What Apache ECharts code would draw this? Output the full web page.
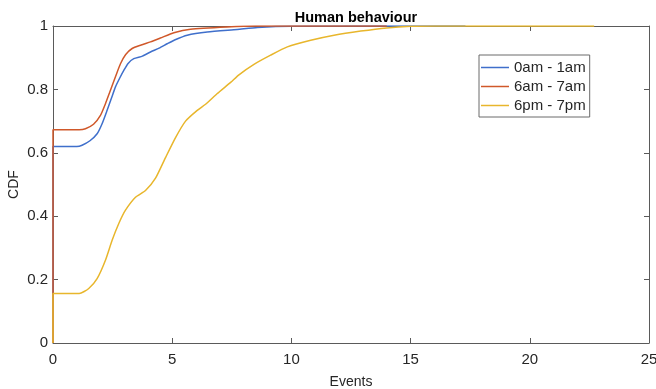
<!DOCTYPE html>
<html>
<head>
<meta charset="utf-8">
<script src="https://cdn.jsdelivr.net/npm/echarts@6/dist/echarts.min.js"></script>
<style>
  html, body { margin: 0; padding: 0; background: #fff; }
  #chart { width: 656px; height: 389px; }
</style>
</head>
<body>
<div id="chart"></div>
<script>
  // CDF curves, [events, cdf]
  var seriesNames = ['0am - 1am', '6am - 7am', '6pm - 7pm'];
  var night = [[0, 0], [0, 0.62], [1.0, 0.62], [1.22, 0.624], [1.55, 0.638], [1.85, 0.66], [2.05, 0.69], [2.27, 0.734],
    [2.45, 0.772], [2.62, 0.808], [2.8, 0.836], [2.97, 0.86], [3.15, 0.882], [3.39, 0.897], [3.75, 0.905], [4.09, 0.918],
    [4.45, 0.93], [4.79, 0.944], [5.1, 0.956], [5.63, 0.971], [6.47, 0.981], [7.73, 0.989], [8.57, 0.995], [10, 0.999], [17.3, 1]];
  var morning = [[0, 0], [0, 0.673], [1.1, 0.673], [1.36, 0.676], [1.7, 0.69], [1.99, 0.718], [2.2, 0.755], [2.41, 0.797],
    [2.62, 0.84], [2.83, 0.881], [3.05, 0.91], [3.32, 0.929], [3.7, 0.94], [4.09, 0.95], [4.5, 0.962], [5.07, 0.979],
    [5.77, 0.99], [7.3, 0.997], [8.5, 1], [14, 1]];
  var evening = [[0, 0], [0, 0.156], [1.1, 0.156], [1.5, 0.172], [1.85, 0.203], [2.2, 0.261], [2.48, 0.324], [2.76, 0.377],
    [3.04, 0.419], [3.46, 0.46], [3.88, 0.481], [4.3, 0.52], [4.72, 0.585], [5.14, 0.648], [5.56, 0.7], [6.05, 0.734],
    [6.4, 0.753], [6.89, 0.787], [7.45, 0.822], [7.8, 0.846], [8.43, 0.879], [9.13, 0.908], [9.83, 0.934], [10.81, 0.955],
    [11.79, 0.971], [12.91, 0.984], [14, 0.994], [15, 0.999], [16, 1], [22.7, 1]];
  var colors = ['#3f6fcb', '#d0582a', '#e8b62c'];

  var chart = echarts.init(document.getElementById('chart'));
  var axisColor = '#5a5a5a';
  var font = 'Liberation Sans, Arial, sans-serif';
  var labelStyle = { color: '#262626', fontSize: 15, fontFamily: font };

  function boxAxis(pos, type) {
    return {
      type: 'value', position: pos, min: 0,
      max: type === 'x' ? 25 : 1, interval: type === 'x' ? 5 : 0.2,
      axisLine: { show: true, onZero: false, lineStyle: { color: axisColor, width: 1 } },
      axisTick: { show: true, inside: true, length: 5, lineStyle: { color: axisColor } },
      axisLabel: { show: false },
      splitLine: { show: false }
    };
  }

  var lines = [night, morning, evening].map(function (d, i) {
    return {
      name: seriesNames[i],
      type: 'line',
      data: d,
      symbol: 'none',
      smooth: 0.2,
      xAxisIndex: 0,
      yAxisIndex: 0,
      color: colors[i],
      lineStyle: { width: 1.5, color: colors[i] },
      z: 2 + i
    };
  });

  var option = {
    backgroundColor: '#fff',
    animation: false,
    title: {
      text: 'Human behaviour',
      left: 351, top: 5, textAlign: 'center',
      textStyle: { fontSize: 14.5, fontWeight: 'bold', color: '#000', fontFamily: font }
    },
    legend: {
      orient: 'vertical',
      left: 479, top: 55,
      icon: 'rect',
      itemWidth: 28, itemHeight: 1.5, itemGap: 4,
      padding: [5, 4, 4, 2],
      borderColor: '#6b6b6b', borderWidth: 1,
      backgroundColor: '#fff',
      textStyle: Object.assign({ lineHeight: 15 }, labelStyle),
      data: seriesNames
    },
    grid: { left: 53, right: 7, top: 26, bottom: 46, containLabel: false, outerBoundsMode: 'none' },
    xAxis: [
      {
        type: 'value', min: 0, max: 25, interval: 5,
        name: 'Events', nameLocation: 'middle', nameGap: 32, nameMoveOverlap: false,
        nameTextStyle: { color: '#262626', fontSize: 14, fontFamily: font },
        axisLine: { show: true, onZero: false, lineStyle: { color: axisColor, width: 1 } },
        axisTick: { show: true, inside: true, length: 5, lineStyle: { color: axisColor } },
        axisLabel: Object.assign({ margin: 9 }, labelStyle),
        splitLine: { show: false }
      },
      boxAxis('top', 'x')
    ],
    yAxis: [
      {
        type: 'value', min: 0, max: 1, interval: 0.2,
        name: 'CDF', nameLocation: 'middle', nameGap: 32, nameMoveOverlap: false,
        nameTextStyle: { color: '#262626', fontSize: 14, fontFamily: font },
        axisLine: { show: true, onZero: false, lineStyle: { color: axisColor, width: 1 } },
        axisTick: { show: true, inside: true, length: 5, lineStyle: { color: axisColor } },
        axisLabel: Object.assign({ margin: 5, formatter: function (v) { return String(Math.round(v * 10) / 10); } }, labelStyle),
        splitLine: { show: false }
      },
      boxAxis('right', 'y')
    ],
    series: lines
  };
  chart.setOption(option);
</script>
</body>
</html>
